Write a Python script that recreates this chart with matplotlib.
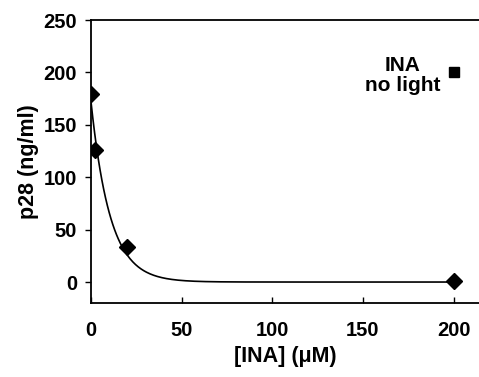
import numpy as np
import matplotlib.pyplot as plt

plt.rcParams['font.family'] = ['Liberation Sans', 'DejaVu Sans']
plt.rcParams['font.weight'] = 'bold'

# measured points
ina = [0, 2, 20, 200]
p28 = [179, 126, 33, 1]
# control, INA no light
ctrl_x = [200]
ctrl_y = [200]
# exponential decay fit parameters
fit_a = 172.0
fit_k = 0.095

fig = plt.figure(figsize=(4.79, 3.77), dpi=100)
ax = fig.add_axes([91/479, 1-303/377, 1-91/479, (303-20)/377])

xx = np.linspace(0, 200, 400)
ax.plot(xx, fit_a*np.exp(-fit_k*xx), color='black', lw=1.2)
ax.plot(ina, p28, 'D', color='black', markersize=8.5)
ax.plot(ctrl_x, ctrl_y, 's', color='black', markersize=6.5)
ax.text(172, 197, 'INA\nno light', ha='center', va='center', fontsize=15,
        fontweight='bold', linespacing=1.05)

ax.set_xlim(0, 214)
ax.set_ylim(-20, 250)
ax.set_xticks([0, 50, 100, 150, 200])
ax.set_yticks([0, 50, 100, 150, 200, 250])
ax.tick_params(axis='x', direction='in', length=4, width=1, labelsize=14.5, pad=13)
ax.tick_params(axis='y', direction='out', length=4, width=1, labelsize=14.5, pad=6)
for lab in ax.get_xticklabels() + ax.get_yticklabels():
    lab.set_fontweight('bold')
ax.spines['right'].set_visible(False)
for s in ['left', 'bottom', 'top']:
    ax.spines[s].set_linewidth(1.3)

ax.set_xlabel('[INA] (\u03bcM)', fontsize=15.5, fontweight='bold', labelpad=4)
ax.set_ylabel('p28 (ng/ml)', fontsize=15.5, fontweight='bold', labelpad=3)

fig.savefig('out.png', dpi=100)
